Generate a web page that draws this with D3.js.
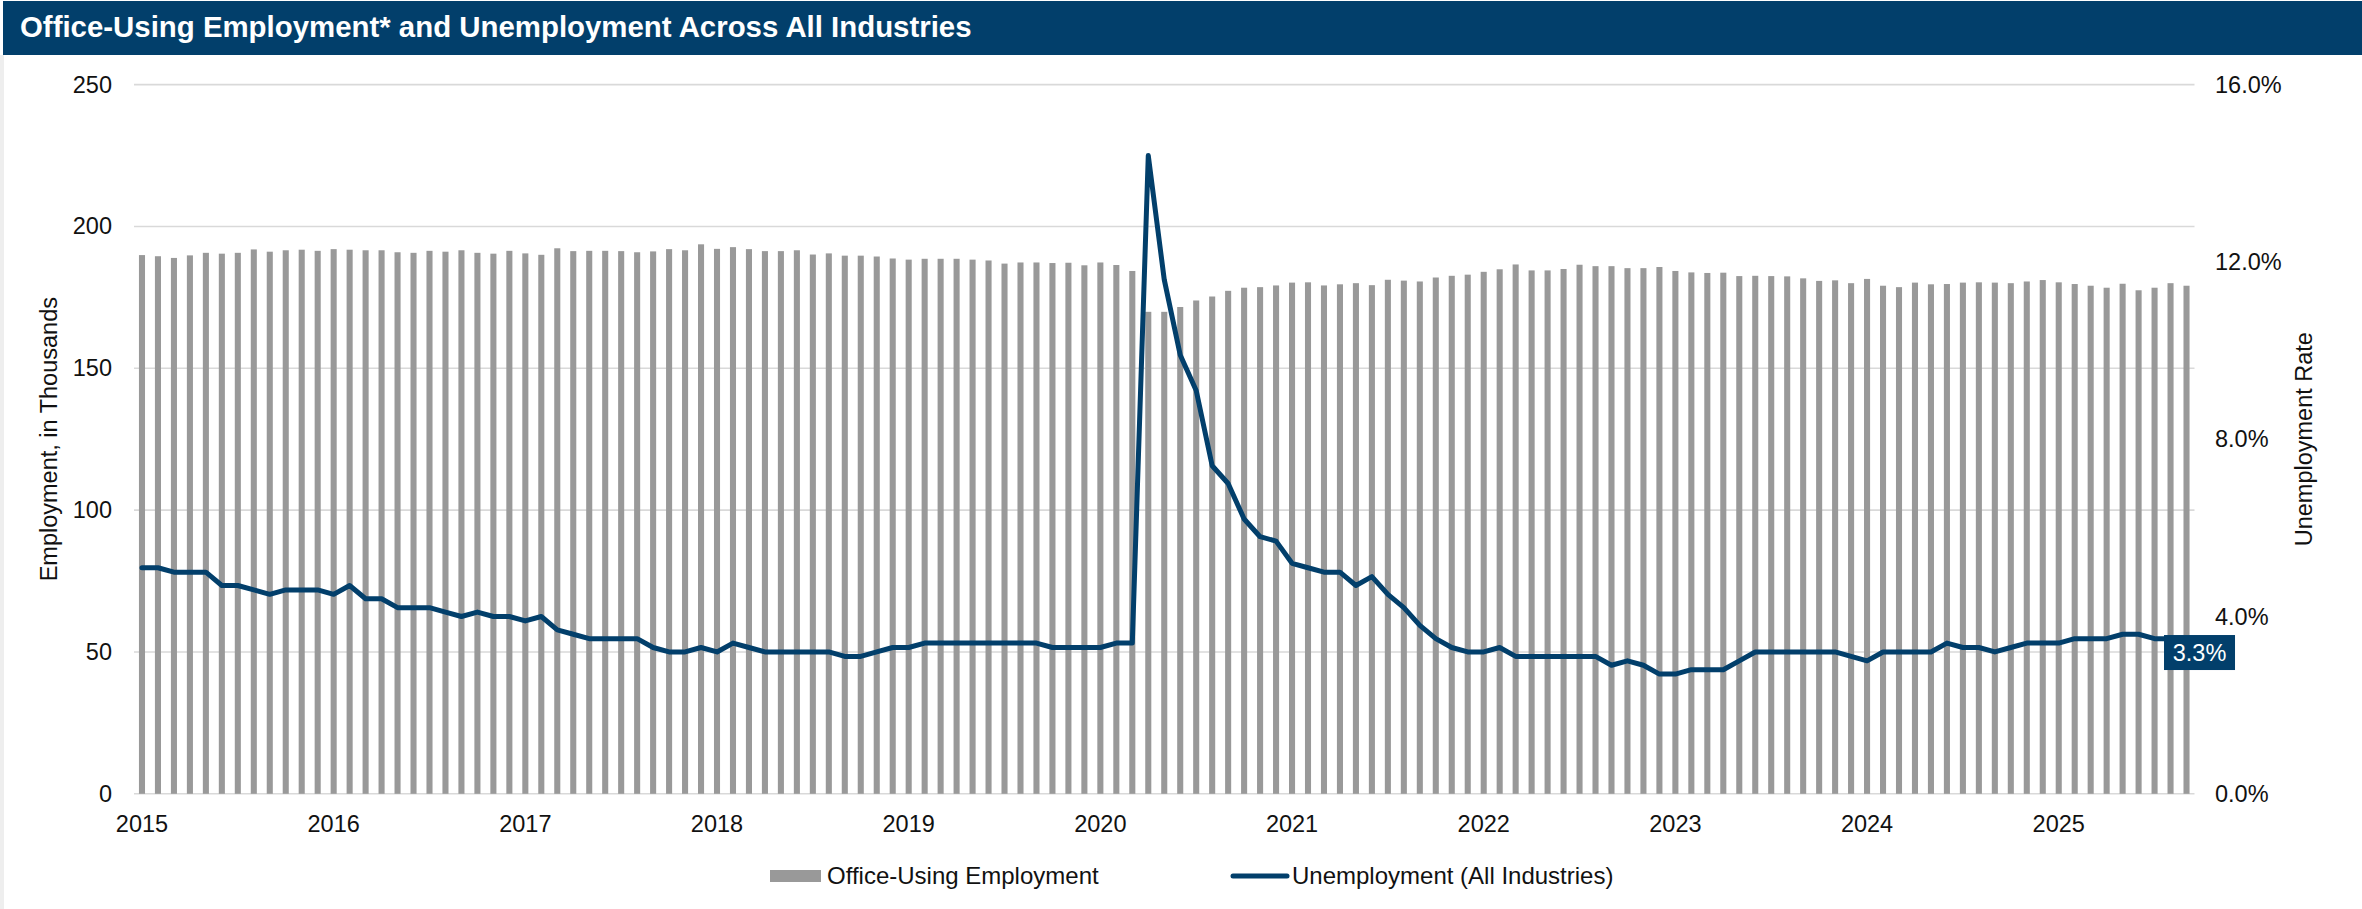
<!DOCTYPE html>
<html>
<head>
<meta charset="utf-8">
<script src="https://cdn.jsdelivr.net/npm/d3@7"></script>
<style>
  body { margin: 0; background: #ffffff; }
  svg { display: block; font-family: "Liberation Sans", Arial, sans-serif; }
</style>
</head>
<body>
<svg id="chart" width="2362" height="909"></svg>
<script>
// ---------------- DATA ----------------
const titleText = "Office-Using Employment* and Unemployment Across All Industries";
const seriesNames = ["Office-Using Employment", "Unemployment (All Industries)"];
const axisTitles = ["Employment, in Thousands", "Unemployment Rate"];
const yearLabels = ["2015","2016","2017","2018","2019","2020","2021","2022","2023","2024","2025"];
const leftTicks = [0, 50, 100, 150, 200, 250];
const rightTicks = [0, 4, 8, 12, 16];

// Office-using employment, thousands (Jan 2015 - Sep 2025)
const employment = [
  189.9, 189.5, 188.9, 189.8, 190.7, 190.4, 190.7, 191.9, 191.1, 191.6, 191.8, 191.4,
  192.0, 191.8, 191.6, 191.6, 190.9, 190.7, 191.4, 191.1, 191.6, 190.7, 190.4, 191.4,
  190.5, 190.0, 192.3, 191.3, 191.4, 191.4, 191.3, 190.9, 191.2, 192.0, 191.6, 193.7,
  192.1, 192.7, 192.0, 191.3, 191.3, 191.6, 190.1, 190.5, 189.7, 189.7, 189.4, 188.7,
  188.3, 188.6, 188.6, 188.6, 188.3, 188.0, 186.9, 187.3, 187.3, 187.1, 187.2, 186.3,
  187.3, 186.4, 184.3, 169.9, 169.9, 171.6, 173.9, 175.3, 177.3, 178.4, 178.6, 179.2,
  180.2, 180.3, 179.2, 179.6, 180.0, 179.3, 181.2, 180.9, 180.6, 182.0, 182.6, 183.0,
  184.0, 184.9, 186.6, 184.5, 184.5, 185.0, 186.5, 186.0, 186.0, 185.3, 185.3, 185.7,
  184.3, 183.8, 183.6, 183.7, 182.5, 182.6, 182.5, 182.4, 181.7, 180.8, 181.0, 180.0,
  181.5, 179.1, 178.6, 180.2, 179.6, 179.7, 180.2, 180.3, 180.2, 180.0, 180.6, 181.1,
  180.3, 179.7, 179.1, 178.4, 179.8, 177.5, 178.4, 180.0, 179.1
];

// Unemployment rate, % (all industries)
const unemployment = [
  5.1, 5.1, 5.0, 5.0, 5.0, 4.7, 4.7, 4.6, 4.5, 4.6, 4.6, 4.6,
  4.5, 4.7, 4.4, 4.4, 4.2, 4.2, 4.2, 4.1, 4.0, 4.1, 4.0, 4.0,
  3.9, 4.0, 3.7, 3.6, 3.5, 3.5, 3.5, 3.5, 3.3, 3.2, 3.2, 3.3,
  3.2, 3.4, 3.3, 3.2, 3.2, 3.2, 3.2, 3.2, 3.1, 3.1, 3.2, 3.3,
  3.3, 3.4, 3.4, 3.4, 3.4, 3.4, 3.4, 3.4, 3.4, 3.3, 3.3, 3.3,
  3.3, 3.4, 3.4, 14.4, 11.6, 9.9, 9.1, 7.4, 7.0, 6.2, 5.8, 5.7,
  5.2, 5.1, 5.0, 5.0, 4.7, 4.9, 4.5, 4.2, 3.8, 3.5, 3.3, 3.2,
  3.2, 3.3, 3.1, 3.1, 3.1, 3.1, 3.1, 3.1, 2.9, 3.0, 2.9, 2.7,
  2.7, 2.8, 2.8, 2.8, 3.0, 3.2, 3.2, 3.2, 3.2, 3.2, 3.2, 3.1,
  3.0, 3.2, 3.2, 3.2, 3.2, 3.4, 3.3, 3.3, 3.2, 3.3, 3.4, 3.4,
  3.4, 3.5, 3.5, 3.5, 3.6, 3.6, 3.5, 3.5, 3.3
];

// monthly categories
const months = d3.timeMonth.range(new Date(2015, 0, 1), new Date(2025, 9, 1));

// ---------------- STYLE ----------------
const NAVY = "#023f6b";
const BAR = "#999999";
const GRID = "#d9d9d9";
const TEXT = "#111111";
const FS = 23.5;
const LEG_FS = 24;

const svg = d3.select("#chart");

// background frame
svg.append("rect").attr("x", 0).attr("y", 0).attr("width", 2362).attr("height", 909).attr("fill", "#ffffff");
svg.append("rect").attr("x", 0).attr("y", 55).attr("width", 4).attr("height", 854).attr("fill", "#eeeeee");

// title bar
svg.append("rect").attr("x", 3).attr("y", 1).attr("width", 2359).attr("height", 54).attr("fill", NAVY);
svg.append("text").attr("x", 20).attr("y", 37)
  .attr("fill", "#ffffff").attr("font-size", 29.4).attr("font-weight", "bold")
  .text(titleText);

// ---------------- SCALES ----------------
const plotLeft = 134, plotRight = 2194.5, plotTop = 84.6, plotBottom = 793.8;

const x = d3.scaleBand()
  .domain(d3.range(months.length))
  .range([plotLeft, plotRight])
  .paddingInner(0.62)
  .paddingOuter(0.31);

const yL = d3.scaleLinear().domain([0, 250]).range([plotBottom, plotTop]);
const yR = d3.scaleLinear().domain([0, 16]).range([plotBottom, plotTop]);

// gridlines
svg.append("g").selectAll("line").data(leftTicks).join("line")
  .attr("x1", plotLeft).attr("x2", plotRight)
  .attr("y1", d => yL(d)).attr("y2", d => yL(d))
  .attr("stroke", GRID).attr("stroke-width", 1.6);

// bars
svg.append("g").selectAll("rect").data(employment).join("rect")
  .attr("x", (d, i) => x(i))
  .attr("width", x.bandwidth())
  .attr("y", d => yL(d))
  .attr("height", d => yL(0) - yL(d))
  .attr("fill", BAR);

// line
const cx = i => x(i) + x.bandwidth() / 2;
const line = d3.line().x((d, i) => cx(i)).y(d => yR(d));
svg.append("path").datum(unemployment)
  .attr("d", line)
  .attr("fill", "none")
  .attr("stroke", NAVY)
  .attr("stroke-width", 5)
  .attr("stroke-linejoin", "round")
  .attr("stroke-linecap", "round");

// ---------------- AXES ----------------
function styleAxis(g) {
  g.select(".domain").remove();
  g.selectAll(".tick line").remove();
  g.selectAll("text").attr("font-size", FS).attr("fill", TEXT)
    .attr("font-family", "'Liberation Sans', Arial, sans-serif");
}

svg.append("g").attr("transform", `translate(${plotLeft},0)`)
  .call(d3.axisLeft(yL).tickValues(leftTicks).tickSize(0).tickPadding(22))
  .call(styleAxis);

svg.append("g").attr("transform", `translate(${plotRight},0)`)
  .call(d3.axisRight(yR).tickValues(rightTicks).tickSize(0).tickPadding(20.5)
    .tickFormat(d => d3.format(".1f")(d) + "%"))
  .call(styleAxis);

const janIdx = months.map((m, i) => i).filter(i => months[i].getMonth() === 0);
svg.append("g").attr("transform", `translate(0,${plotBottom})`)
  .call(d3.axisBottom(x).tickValues(janIdx).tickSize(0).tickPadding(22)
    .tickFormat(i => yearLabels[yearLabels.indexOf(String(months[i].getFullYear()))]))
  .call(styleAxis);

// axis titles
svg.append("text")
  .attr("transform", `translate(57,${(plotTop + plotBottom) / 2}) rotate(-90)`)
  .attr("text-anchor", "middle").attr("font-size", FS).attr("fill", TEXT)
  .text(axisTitles[0]);
svg.append("text")
  .attr("transform", `translate(2312,${(plotTop + plotBottom) / 2}) rotate(-90)`)
  .attr("text-anchor", "middle").attr("font-size", FS).attr("fill", TEXT)
  .text(axisTitles[1]);

// ---------------- DATA LABEL ----------------
const lastI = unemployment.length - 1;
const lx = cx(lastI) + 13, ly = yR(unemployment[lastI]) + 5;
const lbl = svg.append("g");
lbl.append("rect").attr("x", lx - 35.5).attr("y", ly - 17.5).attr("width", 71).attr("height", 35).attr("fill", NAVY);
lbl.append("text").attr("x", lx).attr("y", ly).attr("dy", "0.35em")
  .attr("text-anchor", "middle").attr("font-size", FS).attr("fill", "#ffffff")
  .text(d3.format(".1f")(unemployment[lastI]) + "%");

// ---------------- LEGEND ----------------
const leg = svg.append("g");
leg.append("rect").attr("x", 770).attr("y", 870).attr("width", 51).attr("height", 12).attr("fill", BAR);
leg.append("text").attr("x", 827).attr("y", 884).attr("font-size", LEG_FS).attr("fill", TEXT).text(seriesNames[0]);
leg.append("line").attr("x1", 1233).attr("x2", 1287).attr("y1", 876).attr("y2", 876)
  .attr("stroke", NAVY).attr("stroke-width", 5).attr("stroke-linecap", "round");
leg.append("text").attr("x", 1292).attr("y", 884).attr("font-size", LEG_FS).attr("fill", TEXT).text(seriesNames[1]);
</script>
</body>
</html>
